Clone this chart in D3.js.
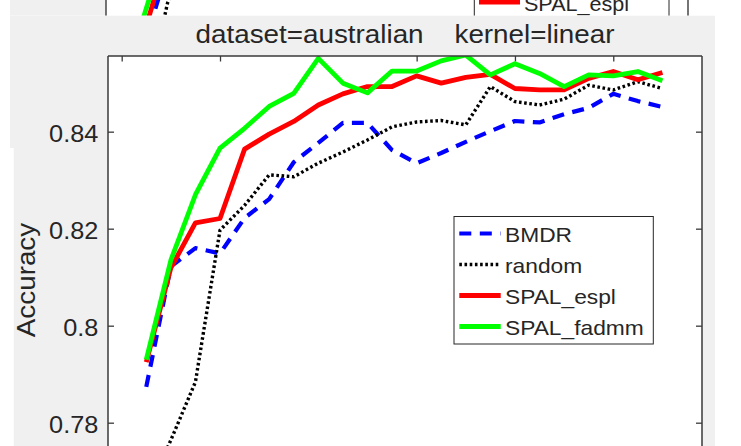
<!DOCTYPE html>
<html><head><meta charset="utf-8">
<script src="https://cdn.jsdelivr.net/npm/d3@7/dist/d3.min.js"></script>
<style>
html,body{margin:0;padding:0;background:#fff;}
svg{display:block;}
text{font-family:"Liberation Sans",Arial,Helvetica,sans-serif;fill:#262626;}
</style>
</head><body>
<svg id="c" width="741" height="446"></svg>
<script>
// ---------------- data ----------------
const iterations = [1,2,3,4,5,6,7,8,9,10,11,12,13,14,15,16,17,18,19,20,21,22];
const bmdr      = [0.7874,0.8122,0.8160,0.8149,0.8222,0.8261,0.8337,0.8377,0.8418,0.8418,0.8362,0.8335,0.8356,0.8379,0.8401,0.8422,0.8419,0.8436,0.8449,0.8478,0.8463,0.8451];
const random    = [0.7650,0.7764,0.7884,0.8197,0.8248,0.8311,0.8307,0.8335,0.8358,0.8383,0.8410,0.8420,0.8423,0.8414,0.8493,0.8462,0.8455,0.8467,0.8496,0.8486,0.8503,0.8489];
const spalEspl  = [0.7925,0.8119,0.8212,0.8221,0.8364,0.8395,0.8421,0.8455,0.8478,0.8493,0.8493,0.8515,0.8500,0.8512,0.8518,0.8489,0.8486,0.8486,0.8510,0.8524,0.8507,0.8522];
const spalFadmm = [0.7930,0.8135,0.8270,0.8366,0.8407,0.8452,0.8479,0.8551,0.8500,0.8480,0.8525,0.8525,0.8546,0.8558,0.8517,0.8540,0.8520,0.8493,0.8517,0.8515,0.8524,0.8505];
const seriesNames = ["BMDR","random","SPAL_espl","SPAL_fadmm"];
const xTickValues = [0,4,8,12,16,20];
const yTickValues = [0.78,0.80,0.82,0.84];
const yTickLabels = ["0.78","0.8","0.82","0.84"];
const titleText = "dataset=australian    kernel=linear";
const yLabelText = "Accuracy";

// fragment of the preceding figure (visible in the thin strip at the top)
const prevIterations = [1,2,3];
const prevBmdr      = [0.7967,0.8131,0.8200];
const prevRandom    = [0.7837,0.8060,0.8180];
const prevSpalEspl  = [0.7994,0.8160,0.8250];
const prevSpalFadmm = [0.8030,0.8191,0.8300];

// ---------------- styles ----------------
const styles = [
  {color:"#0000ff", dash:"12,8.5", width:4.2},
  {color:"#000000", dash:"2.6,2.6", width:3.4},
  {color:"#ff0000", dash:null, width:4.8},
  {color:"#00ff00", dash:null, width:4.8}
];
const GRAY = "#f0f0f0";
const AXIS = "#3a3a3a";

const svg = d3.select("#c");
const defs = svg.append("defs");
defs.append("clipPath").attr("id","stripClip").append("rect")
  .attr("x",0).attr("y",0).attr("width",741).attr("height",15.7);
defs.append("clipPath").attr("id","plotClip").append("rect")
  .attr("x",108).attr("y",56).attr("width",594).attr("height",470);

svg.append("rect").attr("width",741).attr("height",446).attr("fill","#fff");

function drawLines(g, xs, ys, xvals, seriesList){
  seriesList.forEach((vals,i)=>{
    const st = styles[i];
    const line = d3.line().x((d,j)=>xs(xvals[j])).y(d=>ys(d));
    g.append("path").attr("d", line(vals)).attr("fill","none")
      .attr("stroke", st.color).attr("stroke-width", st.width)
      .attr("stroke-dasharray", st.dash).attr("stroke-linejoin","round");
  });
}

function drawLegend(g, left, right, firstY, step, textX, lineX0, lineX1, fs, shown){
  const top = firstY - 17, bottom = firstY + 3*step + 17.5;
  g.append("rect").attr("x",left).attr("y",top).attr("width",right-left).attr("height",bottom-top)
    .attr("fill","#fff").attr("stroke","#262626").attr("stroke-width",1);
  seriesNames.forEach((name,i)=>{
    if (shown && shown.indexOf(i) < 0) return;
    const st = styles[i];
    const yy = firstY + i*step;
    g.append("line").attr("x1",lineX0).attr("x2",lineX1).attr("y1",yy).attr("y2",yy)
      .attr("stroke",st.color).attr("stroke-width",st.width).attr("stroke-dasharray",st.dash);
    g.append("text").attr("transform",`translate(${textX},${yy+8.8}) scale(1.1,1)`)
      .attr("font-size",fs).text(name);
  });
}

// ---------- top strip: fragment of previous figure ----------
const strip = svg.append("g").attr("clip-path","url(#stripClip)");
strip.append("rect").attr("x",10).attr("y",0).attr("width",96).attr("height",15.7).attr("fill",GRAY);
const px = d3.scaleLinear().domain([-0.557,23.61]).range([106,688]);
const py = d3.scaleLinear().domain([0.76,0.8556]).range([226,-237.7]);
drawLines(strip, px, py, prevIterations, [prevBmdr, prevRandom, prevSpalEspl, prevSpalFadmm]);
strip.append("line").attr("x1",106).attr("x2",106).attr("y1",0).attr("y2",16).attr("stroke",AXIS).attr("stroke-width",1.4);
strip.append("line").attr("x1",688).attr("x2",688).attr("y1",0).attr("y2",16).attr("stroke",AXIS).attr("stroke-width",1.4);
drawLegend(strip, 474.3, 669, 2-2*30.5, 30.5, 524, 479, 520, 19.6, [2]);

// ---------- main figure background ----------
svg.append("rect").attr("x",10).attr("y",15.7).attr("width",705).attr("height",132.3).attr("fill",GRAY);
svg.append("rect").attr("x",13.7).attr("y",148).attr("width",701.3).attr("height",298).attr("fill",GRAY);

// ---------- main axes ----------
const x = d3.scaleLinear().domain([-0.557,23.61]).range([108,702]);
const y = d3.scaleLinear().domain([0.76,0.8556]).range([519.7,56]);
const L = 108, R = 702, T = 56, B = 519.7;

svg.append("rect").attr("x",L).attr("y",T).attr("width",R-L).attr("height",B-T).attr("fill","#fff");

const tickLen = 6;
const yAxisL = d3.axisRight(y).tickValues(yTickValues).tickSize(tickLen).tickFormat("");
const yAxisR = d3.axisLeft(y).tickValues(yTickValues).tickSize(tickLen).tickFormat("");
const xAxisT = d3.axisBottom(x).tickValues(xTickValues).tickSize(5.5).tickFormat("");
const gL = svg.append("g").attr("transform",`translate(${L},0)`).call(yAxisL);
const gR = svg.append("g").attr("transform",`translate(${R},0)`).call(yAxisR);
const gT = svg.append("g").attr("transform",`translate(0,${T})`).call(xAxisT);
[gL,gR,gT].forEach(g=>{
  g.select(".domain").remove();
  g.selectAll(".tick line").attr("stroke",AXIS).attr("stroke-width",1.3);
});

svg.append("g").selectAll("text").data(yTickValues).join("text")
  .attr("transform",(d)=>`translate(98.3,${y(d)+10.8}) scale(1.1,1)`)
  .attr("text-anchor","end").attr("font-size",23)
  .text((d,i)=>yTickLabels[i]);

const plot = svg.append("g").attr("clip-path","url(#plotClip)");
drawLines(plot, x, y, iterations, [bmdr, random, spalEspl, spalFadmm]);

svg.append("line").attr("x1",L).attr("x2",L).attr("y1",T).attr("y2",B).attr("stroke",AXIS).attr("stroke-width",1.5);
svg.append("line").attr("x1",R).attr("x2",R).attr("y1",T).attr("y2",B).attr("stroke",AXIS).attr("stroke-width",1.5);
svg.append("line").attr("x1",L).attr("x2",R).attr("y1",T).attr("y2",T).attr("stroke",AXIS).attr("stroke-width",1.5);

svg.append("text").attr("transform",`translate(405,42.7) scale(1.1,1)`)
  .attr("text-anchor","middle").attr("font-size",25.3).style("white-space","pre")
  .text(titleText);

svg.append("text").attr("transform",`translate(35,280) rotate(-90) scale(1.1,1)`)
  .attr("text-anchor","middle").attr("font-size",25.3).text(yLabelText);

drawLegend(svg.append("g"), 454, 653.3, 233.5, 31, 505, 459.3, 500.7, 20.7);
</script>
</body></html>
